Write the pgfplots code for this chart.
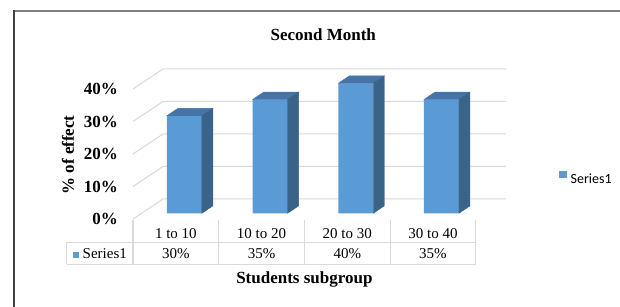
\documentclass[border=0pt]{standalone}
\usepackage{pgfplots}
\pgfplotsset{compat=1.18}
\usepackage{fontspec}
\setmainfont{Liberation Serif}
\newfontfamily\carlito{Carlito}
\definecolor{barfront}{HTML}{5B9BD5}
\definecolor{bartop}{HTML}{4674A6}
\definecolor{barside}{HTML}{3A6389}
\definecolor{gridgray}{HTML}{D9D9D9}
\definecolor{framedark}{HTML}{404040}
\definecolor{framelight}{HTML}{808080}
\pgfdeclareplotmark{nothing}{}
\begin{document}
\begin{tikzpicture}
\useasboundingbox (0,0) rectangle (620pt,307pt);
\fill[white] (0,0) rectangle (620pt,307pt);
\draw[framelight, line width=1.5pt] (13pt,296pt) -- (620pt,296pt);
\draw[framedark, line width=2pt] (14pt,296.75pt) -- (14pt,0pt);
\begin{axis}[
  at={(133pt,88pt)}, anchor=south west,
  x=85.7pt, y=3.25pt,
  xmin=-0.5, xmax=3.5, ymin=0, ymax=40,
  clip=false,
  axis line style={draw=none},
  major tick length=0pt,
  tick style={draw=none},
  xtick pos=bottom, ytick pos=left,
  xtick={0,1,2,3},
  xticklabels={1 to 10,10 to 20,20 to 30,30 to 40},
  xticklabel style={anchor=center, inner sep=0pt, yshift=-15pt, font=\fontsize{15}{17}\selectfont},
  extra x ticks={0,1,2,3},
  extra x tick labels={30\%,35\%,40\%,35\%},
  extra x tick style={xticklabel style={yshift=-20pt}},
  ytick={0,10,20,30,40},
  yticklabel={\pgfmathprintnumber{\tick}\%},
  yticklabel style={anchor=east, inner sep=0pt, xshift=-15pt, font=\bfseries\fontsize{17}{19}\selectfont},
  /pgf/number format/assume math mode=true,
  ylabel={\% of effect},
  every axis y label/.style={at={([xshift=-65pt]axis cs:-0.5,19.7)}, anchor=center, rotate=90, font=\bfseries\fontsize{17}{19}\selectfont},
  xlabel={Students subgroup},
  every axis x label/.style={at={(axis cs:1.5,0)}, anchor=center, yshift=-60pt, font=\bfseries\fontsize{17}{19}\selectfont},
  title={Second Month},
  every axis title/.style={at={(axis cs:1.72,0)}, anchor=center, yshift=184pt, font=\bfseries\fontsize{17}{19}\selectfont},
  legend style={at={(axis cs:4.47,12.3)}, anchor=west, draw=none, fill=none, inner sep=0pt, font=\carlito\fontsize{14}{16}\selectfont},
  legend image code/.code={\fill[barfront] (0pt,-3.5pt) rectangle (7.5pt,3.5pt);},
]
% back wall and left wall gridlines
\pgfplotsinvokeforeach{0,10,20,30,40}{
  \draw[gridgray, line width=1pt] (axis cs:-0.5,#1) -- ++(30pt,20pt) -- ([xshift=30pt,yshift=20pt]axis cs:3.5,#1);
}
% front faces of the bars
\addplot[ybar, bar width=35pt, bar shift=8.5pt, fill=barfront, draw=none, yshift=5.7pt]
  coordinates {(0,30) (1,35) (2,40) (3,35)};
\addlegendentry{\hspace{2pt}Series1}
% top and side faces of the bars
\addplot[forget plot, only marks, mark=nothing, scatter,
  visualization depends on={rawy \as \yv},
  scatter/@pre marker code/.code={%
    \pgfmathsetmacro\hh{\yv*3.25}%
    \fill[bartop] (-9pt,5.7pt) -- (26pt,5.7pt) -- (37pt,13.1pt) -- (2pt,13.1pt) -- cycle;
    \fill[barside] (26pt,5.7pt) -- (37pt,13.1pt) -- (37pt,{13.1pt-\hh pt}) -- (26pt,{5.7pt-\hh pt}) -- cycle;
  },
  scatter/@post marker code/.code={}]
  coordinates {(0,30) (1,35) (2,40) (3,35)};
% data table lines
\pgfplotsinvokeforeach{-0.5,0.5,1.5,2.5,3.5}{
  \draw[gridgray, line width=1.2pt] ([yshift=-1pt]axis cs:#1,0) -- ([yshift=-45.3pt]axis cs:#1,0);
}
\draw[gridgray, line width=1.2pt] ([xshift=-66.3pt,yshift=-23.5pt]axis cs:-0.5,0) -- ([yshift=-23.5pt]axis cs:3.5,0);
\draw[gridgray, line width=1.2pt] ([xshift=-66.3pt,yshift=-45.3pt]axis cs:-0.5,0) -- ([yshift=-45.3pt]axis cs:3.5,0);
\draw[gridgray, line width=1.2pt] ([xshift=-66.3pt,yshift=-23.5pt]axis cs:-0.5,0) -- ([xshift=-66.3pt,yshift=-45.3pt]axis cs:-0.5,0);
\node[anchor=west, inner sep=0pt, font=\fontsize{15}{17}\selectfont] at ([xshift=-60.5pt,yshift=-35pt]axis cs:-0.5,0) {\textcolor{barfront}{\rule[0.5pt]{6pt}{6pt}}\hspace{4pt}Series1};
\end{axis}
\end{tikzpicture}
\end{document}
